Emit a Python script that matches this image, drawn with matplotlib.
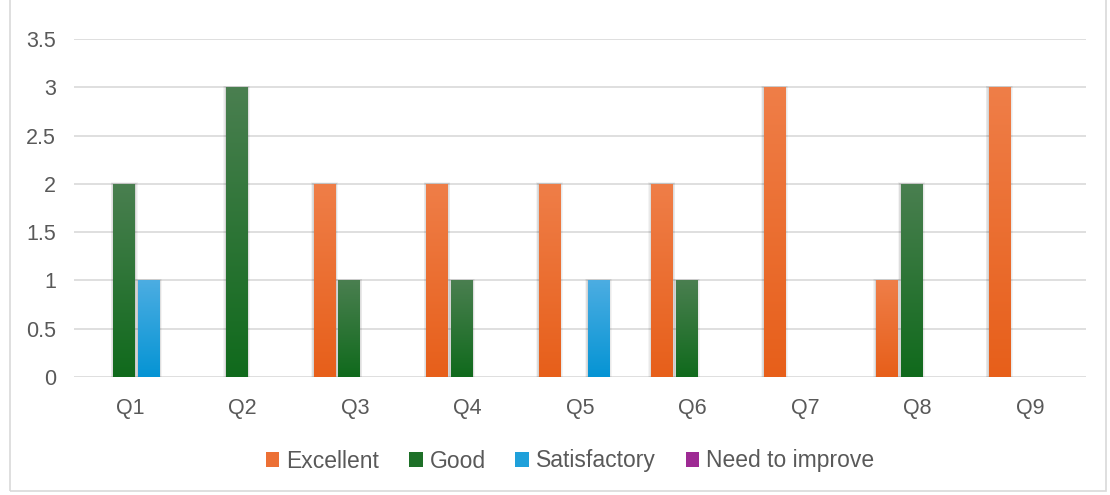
import matplotlib.pyplot as plt
import numpy as np
from matplotlib.colors import LinearSegmentedColormap
from matplotlib.patches import Rectangle

questions = ['Q1', 'Q2', 'Q3', 'Q4', 'Q5', 'Q6', 'Q7', 'Q8', 'Q9']
series = ['Excellent', 'Good', 'Satisfactory', 'Need to improve']
excellent = [0, 0, 2, 2, 2, 2, 3, 1, 3]
good = [2, 3, 1, 1, 0, 1, 0, 2, 0]
satisfactory = [1, 0, 0, 0, 1, 0, 0, 0, 0]
need_to_improve = [0, 0, 0, 0, 0, 0, 0, 0, 0]

# top / bottom gradient colours per series
tops = ['#EF7E48', '#4A7F50', '#4CADE2', '#A8449E']
bottoms = ['#E75F1A', '#106A1C', '#0594D4', '#951A8C']
solid = ['#EC7035', '#1E7028', '#1FA0DA', '#9E2A94']

plt.rcParams['font.family'] = ['Liberation Sans', 'DejaVu Sans']
txt = '#595959'

fig = plt.figure(figsize=(11.1, 4.95), dpi=100)
fig.patches.append(Rectangle((10 / 1110, 4 / 495), 1096 / 1110, 495 / 495,
                             transform=fig.transFigure, fill=False,
                             edgecolor='#D9D9D9', lw=1.2))

ax = fig.add_axes([74 / 1110, 118 / 495, 1012 / 1110, 338 / 495])
x = np.arange(len(questions))
w = 0.19
step = 0.218
values = [excellent, good, satisfactory, need_to_improve]

for i, vals in enumerate(values):
    pos = x + (i - 1.5) * step + 0.055
    cmap = LinearSegmentedColormap.from_list('g%d' % i, [bottoms[i], tops[i]])
    grad = np.linspace(0, 1, 256).reshape(-1, 1)
    for p, v in zip(pos, vals):
        if v <= 0:
            continue
        # soft shadow
        for k in range(1, 5):
            d = 0.006 * k
            ax.add_patch(Rectangle((p - w / 2 - d, 0), w + 2 * d, v + d * 0.6,
                                   facecolor='black', alpha=0.045, lw=0, zorder=2))
        bar = ax.bar(p, v, width=w, color=solid[i], zorder=3)[0]
        im = ax.imshow(grad, cmap=cmap, origin='lower', aspect='auto',
                       extent=[p - w / 2, p + w / 2, 0, v], zorder=3.5,
                       vmin=0, vmax=1)
        im.set_clip_path(bar)

ax.set_xlim(-0.5, len(questions) - 0.5)
ax.set_ylim(0, 3.5)
ax.set_yticks(np.arange(0, 3.6, 0.5))
ax.set_yticklabels(['0', '0.5', '1', '1.5', '2', '2.5', '3', '3.5'])
ax.set_xticks(x)
ax.set_xticklabels(questions)
ax.grid(axis='y', color='#D9D9D9', lw=1.2, zorder=0)
ax.set_axisbelow(True)
for s in ax.spines.values():
    s.set_visible(False)
ax.tick_params(axis='y', length=0, pad=13, labelsize=15.5, labelcolor=txt)
ax.tick_params(axis='x', length=0, pad=15, labelsize=15.5, labelcolor=txt)

handles = [Rectangle((0, 0), 1, 1, facecolor=c) for c in solid]
fig.legend(handles, series, loc='center', bbox_to_anchor=(570 / 1110, 1 - 461 / 495),
           ncol=4, frameon=False, fontsize=16.5, labelcolor=txt,
           handlelength=0.6, handleheight=0.6, handletextpad=0.3, columnspacing=1.3)

fig.savefig('out.png', dpi=100)
